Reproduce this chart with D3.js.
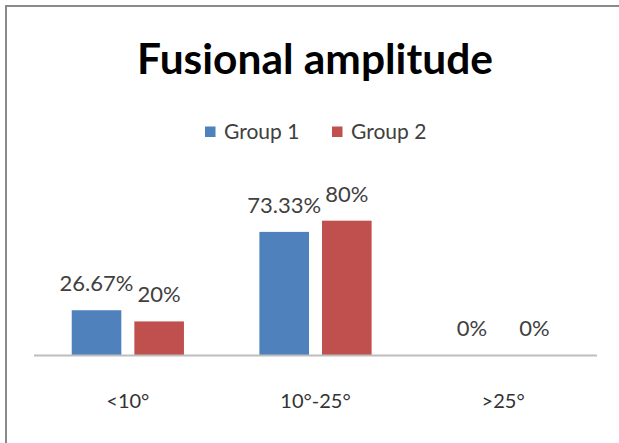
<!DOCTYPE html>
<html>
<head>
<meta charset="utf-8">
<script src="https://cdn.jsdelivr.net/npm/d3@7"></script>
<style>
  html, body { margin: 0; padding: 0; background: #fff; }
  svg { display: block; }
  text { font-family: Lato, "Open Sans", sans-serif; }
</style>
</head>
<body>
<svg id="chart" width="619" height="443"></svg>
<script>
// ---- data ----
const categories = ["<10°", "10°-25°", ">25°"];
const seriesNames = ["Group 1", "Group 2"];
const group1 = [26.67, 73.33, 0];
const group2 = [20, 80, 0];
const valueLabels1 = ["26.67%", "73.33%", "0%"];
const valueLabels2 = ["20%", "80%", "0%"];
const titleText = "Fusional amplitude";
const colors = ["#4F81BD", "#C0504D"];

const seriesValues = [group1, group2];
const seriesLabels = [valueLabels1, valueLabels2];

const svg = d3.select("#chart");
const W = 619, H = 443;

// chart border (top and left visible)
svg.append("path")
  .attr("d", `M6,${H} L6,6 L${W},6`)
  .attr("fill", "none")
  .attr("stroke", "#8a8a8a")
  .attr("stroke-width", 2);

// scales
const x0 = d3.scaleBand().domain(categories).range([34, 597])
  .paddingInner(0.402).paddingOuter(0.201);
const x1 = d3.scaleBand().domain(seriesNames).range([0, x0.bandwidth()])
  .paddingInner(0.208).paddingOuter(0);
const y = d3.scaleLinear().domain([0, 90]).range([355, 355 - 90 * 1.679]);

// title
const title = svg.append("text")
  .attr("x", 315).attr("y", 74)
  .attr("text-anchor", "middle")
  .attr("font-weight", "bold")
  .attr("font-size", 40)
  .attr("fill", "#000")
  .text(titleText);
const tw = title.node().getComputedTextLength();
title.attr("font-size", 40 * 356 / tw);

// legend
const legendItems = [{x: 205, name: seriesNames[0], c: colors[0]}, {x: 332, name: seriesNames[1], c: colors[1]}];
const lg = svg.append("g");
legendItems.forEach(d => {
  lg.append("rect").attr("x", d.x).attr("y", 126.5).attr("width", 10.5).attr("height", 10.5).attr("fill", d.c);
  lg.append("text").attr("x", d.x + 19).attr("y", 138.5)
    .attr("font-size", 21).attr("fill", "#404040").text(d.name);
});

// bars
const groups = svg.append("g").selectAll("g")
  .data(categories)
  .join("g")
  .attr("transform", d => `translate(${x0(d)},0)`);

groups.selectAll("rect")
  .data((c, i) => seriesNames.map((s, j) => ({s, v: seriesValues[j][i], c: colors[j]})))
  .join("rect")
  .attr("x", d => x1(d.s))
  .attr("width", x1.bandwidth())
  .attr("y", d => y(d.v))
  .attr("height", d => y(0) - y(d.v))
  .attr("fill", d => d.c);

groups.selectAll("text.val")
  .data((c, i) => seriesNames.map((s, j) => ({s, v: seriesValues[j][i], t: seriesLabels[j][i]})))
  .join("text")
  .attr("class", "val")
  .attr("x", d => x1(d.s) + x1.bandwidth() / 2)
  .attr("y", d => y(d.v) - 19)
  .attr("text-anchor", "middle")
  .attr("font-size", 22)
  .attr("fill", "#404040")
  .text(d => d.t);

// x axis
const xAxis = svg.append("g")
  .attr("transform", `translate(0,${y(0)})`)
  .call(d3.axisBottom(x0).tickSize(0).tickPadding(0));
xAxis.select(".domain").attr("stroke", "#bdbdbd").attr("stroke-width", 2).attr("d", "M34,0.5H597");
xAxis.selectAll(".tick text")
  .attr("font-family", "Lato, 'Open Sans', sans-serif")
  .attr("font-size", 20)
  .attr("fill", "#333")
  .attr("dy", 0)
  .attr("y", 53);
</script>
</body>
</html>
